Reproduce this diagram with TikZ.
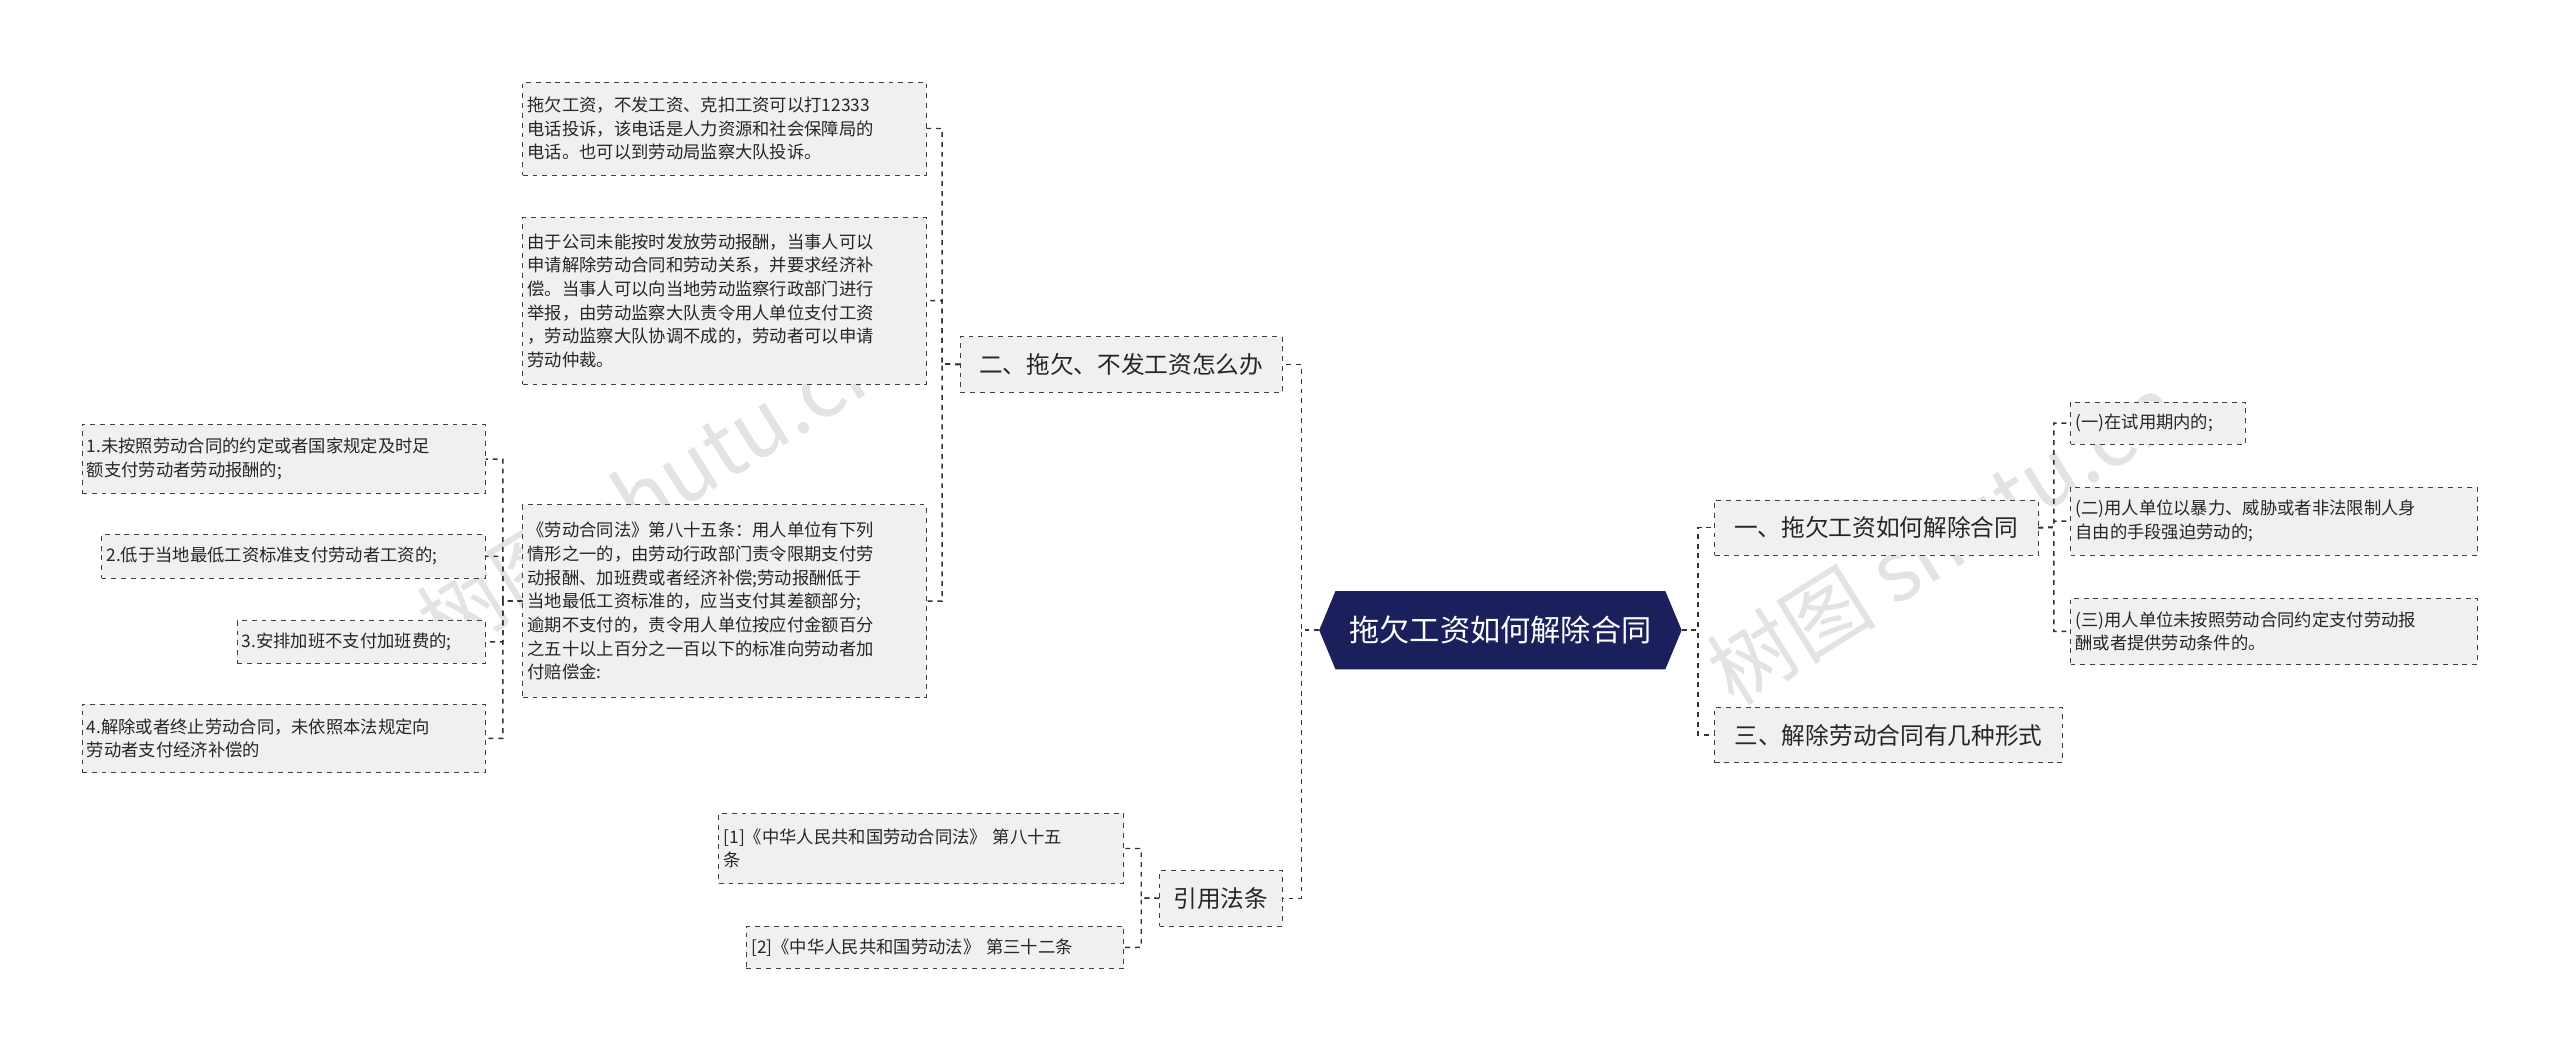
\documentclass[tikz,border=0pt]{standalone}
\usepackage{fontspec}
\setmainfont{Noto Sans CJK SC}
\usetikzlibrary{calc}
\tikzset{x=1pt,y=-1pt,
 leaf/.style={draw=black!75,dashed,fill=gray!12,anchor=north west,align=left,inner sep=3pt,font=\fontsize{10.6}{14.5}\selectfont,text=black!85},
 branch/.style={draw=black!75,dashed,fill=gray!12,anchor=north west,align=center,inner sep=2pt,font=\fontsize{14.5}{17}\selectfont,text=black!85},
 conn/.style={draw=black!80,dashed,line width=0.9pt}}
\newcommand{\bx}[7]{\node[#1,minimum width=#4,minimum height=#5,text width=#6] (#2) at #3 {#7};}
\begin{document}
\begin{tikzpicture}
\useasboundingbox[fill=white] (0,0) rectangle (1568,644);
\node[text=gray!22,font=\fontsize{52}{52}\selectfont,rotate=32] (w1) at (400,300) {树图 shutu.cn};
\node[text=gray!22,font=\fontsize{52}{52}\selectfont,rotate=32] (w2) at (1190,330) {树图 shutu.cn};
% central
\fill[fill={rgb,255:red,27;green,32;blue,92}] (808,386)--(818,362)--(1020,362)--(1030,386)--(1020,410)--(818,410)--cycle;
\node[text=white,font=\fontsize{18.5}{20}\selectfont,minimum width=222,minimum height=48] (c) at (919,386) {拖欠工资如何解除合同};
% right branches
\bx{branch}{r1}{(1050,306)}{198}{34}{194}{一、拖欠工资如何解除合同}
\bx{branch}{r3}{(1050,433)}{213}{34}{209}{三、解除劳动合同有几种形式}
\bx{leaf}{a1}{(1268,246)}{107}{26}{101}{(一)在试用期内的;}
\bx{leaf}{a2}{(1268,298)}{249}{42}{243}{(二)用人单位以暴力、威胁或者非法限制人身\\自由的手段强迫劳动的;}
\bx{leaf}{a3}{(1268,366)}{249}{41}{243}{(三)用人单位未按照劳动合同约定支付劳动报\\酬或者提供劳动条件的。}
% left branches
\bx{branch}{l2}{(588,206)}{197}{34}{193}{二、拖欠、不发工资怎么办}
\bx{branch}{lr}{(710,533)}{75}{34}{71}{引用法条}
\bx{leaf}{b1}{(320,50)}{247}{57}{241}{拖欠工资，不发工资、克扣工资可以打12333\\电话投诉，该电话是人力资源和社会保障局的\\电话。也可以到劳动局监察大队投诉。}
\bx{leaf}{b2}{(320,133)}{247}{102}{241}{由于公司未能按时发放劳动报酬，当事人可以\\申请解除劳动合同和劳动关系，并要求经济补\\偿。当事人可以向当地劳动监察行政部门进行\\举报，由劳动监察大队责令用人单位支付工资\\，劳动监察大队协调不成的，劳动者可以申请\\劳动仲裁。}
\bx{leaf}{b3}{(320,309)}{247}{118}{241}{《劳动合同法》第八十五条：用人单位有下列\\情形之一的，由劳动行政部门责令限期支付劳\\动报酬、加班费或者经济补偿;劳动报酬低于\\当地最低工资标准的，应当支付其差额部分;\\逾期不支付的，责令用人单位按应付金额百分\\之五十以上百分之一百以下的标准向劳动者加\\付赔偿金:}
\bx{leaf}{d1}{(50,260)}{247}{42}{241}{1.未按照劳动合同的约定或者国家规定及时足\\额支付劳动者劳动报酬的;}
\bx{leaf}{d2}{(62,327)}{235}{27}{229}{2.低于当地最低工资标准支付劳动者工资的;}
\bx{leaf}{d3}{(145,380)}{152}{26}{146}{3.安排加班不支付加班费的;}
\bx{leaf}{d4}{(50,431)}{247}{42}{241}{4.解除或者终止劳动合同，未依照本法规定向\\劳动者支付经济补偿的}
\bx{leaf}{e1}{(440,498)}{248}{43}{242}{[1]《中华人民共和国劳动合同法》 第八十五\\条}
\bx{leaf}{e2}{(457,567)}{231}{26}{225}{[2]《中华人民共和国劳动法》 第三十二条}
% connectors
\foreach \t in {r1,r3} \draw[conn] (1030,386) -- (1040,386) |- (\t.west);
\foreach \t in {a1,a2,a3} \draw[conn] (r1.east) -- (1258,323) |- (\t.west);
\foreach \t in {l2,lr} \draw[conn] (808,386) -- (797,386) |- (\t.east);
\foreach \t in {b1,b2,b3} \draw[conn] (l2.west) -- (577,223) |- (\t.east);
\foreach \t in {d1,d2,d3,d4} \draw[conn] (b3.west) -- (308,368) |- (\t.east);
\foreach \t in {e1,e2} \draw[conn] (lr.west) -- (699,550) |- (\t.east);
\end{tikzpicture}
\end{document}
